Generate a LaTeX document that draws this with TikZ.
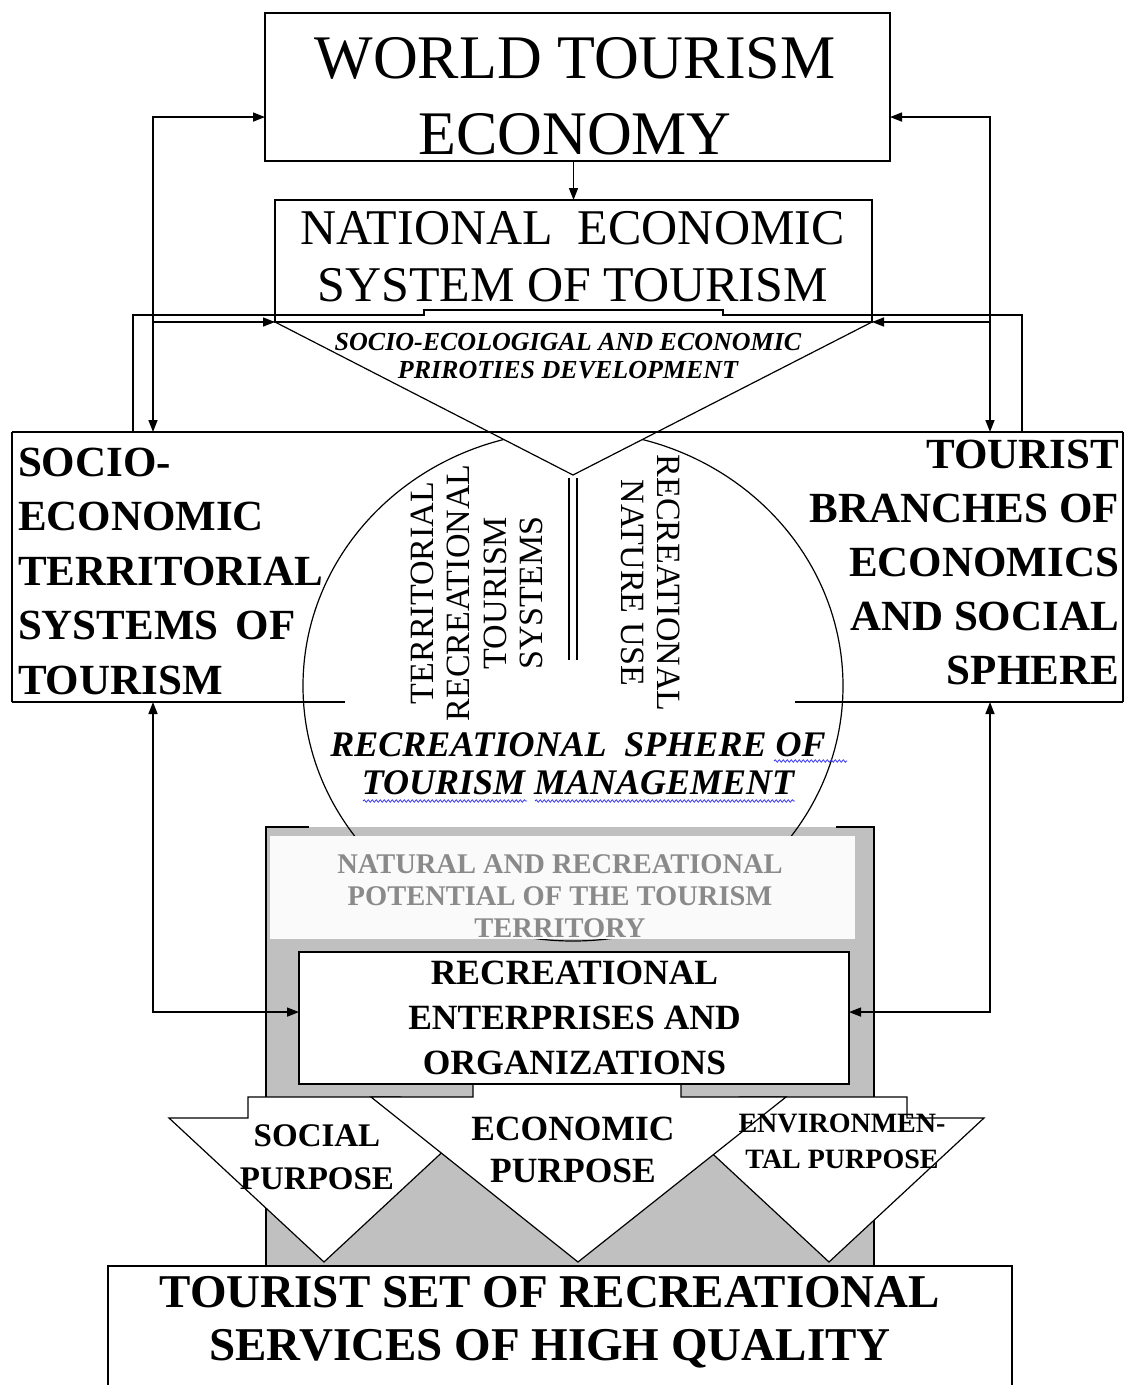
\documentclass[tikz,border=0pt]{standalone}
\usepackage{fontspec}
\setmainfont{Liberation Serif}
\usetikzlibrary{arrows.meta,decorations.pathmorphing,calc}
\newcommand\myfs[2]{\fontsize{#1}{#2}\selectfont}
\definecolor{greyfill}{HTML}{C0C0C0}
\definecolor{greytext}{HTML}{8A8A8A}
\definecolor{panelfill}{HTML}{FAFAFA}
\definecolor{spellblue}{HTML}{3A3AF0}
\begin{document}
\begin{tikzpicture}[x=1pt,y=-1pt,
  box/.style={draw, line width=1.8pt, inner sep=0pt, outer sep=0pt, rectangle},
  frame/.style={inner sep=0pt, outer sep=0pt, rectangle},
  txt/.style={inner sep=0pt, outer sep=0pt, align=center},
  conn/.style={line width=1.5pt},
  arr/.style={conn, -{Triangle[length=12pt,width=9pt]}},
  biarr/.style={conn, {Triangle[length=12pt,width=9pt]}-{Triangle[length=12pt,width=9pt]}},
  thinline/.style={line width=1.2pt},
  edge/.style={line width=1.6pt},
  squiggle/.style={spellblue, line width=0.8pt, decorate, decoration={snake, amplitude=1.2pt, segment length=4pt}}
]
\useasboundingbox (0,0) rectangle (1124,1385);

% side boxes (frames only, outlines drawn piecewise)
\node[frame, minimum width=408pt, minimum height=270pt] (sets) at (216,567) {};
\node[frame, minimum width=398pt, minimum height=270pt] (tbe) at (924,567) {};
\draw[edge] (sets.south west) -- (sets.north west);
\draw[edge] (tbe.north east) -- (tbe.south east);

% sphere (white fill first)
\fill[white] (573,686) ellipse [x radius=270pt, y radius=255pt];

% grey frame
\fill[greyfill] (266,827) rectangle (874,1265);
\draw[thinline] (573,686) ellipse [x radius=270pt, y radius=255pt];
\node[frame, fill=panelfill, minimum width=585pt, minimum height=103pt] (nat) at (562.5,887.5) {};
\draw[edge] (309,827) -- (266,827) -- (266,1265);
\draw[edge] (836,827) -- (874,827) -- (874,1265);

% recreational enterprises box
\node[box, fill=white, minimum width=550pt, minimum height=132pt] (rec) at (574,1018) {};

% priorities triangle
\draw[thinline, fill=white] (275,322) -- (872,322) -- (573,475) -- cycle;

% top line of side boxes and bottom stubs
\draw[edge] (sets.north west) -- (tbe.north east);
\draw[edge] (sets.south west) -- (345,702);
\draw[edge] (795,702) -- (tbe.south east);

% outer loop line
\coordinate (ll) at (133,315);
\coordinate (lr) at (1022,315);
\draw[conn] (sets.north -| ll) -- (ll) -- (424,315) -- (424,310) -- (723,310) -- (723,315) -- (lr) -- (tbe.north -| lr);

% main boxes
\node[box, minimum width=625pt, minimum height=148pt] (wte) at (577.5,87) {};
\node[box, line width=2pt, minimum width=597pt, minimum height=122pt] (nest) at (573.5,261) {};

% connectors
\coordinate (lx) at (153,0);
\coordinate (rx) at (990,0);
\coordinate (wl) at ($(wte.north west)!0.703!(wte.south west)$);
\coordinate (wr) at ($(wte.north east)!0.703!(wte.south east)$);
\coordinate (recl) at ($(rec.north west)!0.455!(rec.south west)$);
\coordinate (recr) at ($(rec.north east)!0.455!(rec.south east)$);
\draw[arr] (wte.south -| nest.north) -- (nest.north);
\draw[biarr] (wl) -| (lx |- sets.north);
\draw[biarr] (wr) -| (rx |- tbe.north);
\draw[arr] (lx |- nest.south) -- (nest.south west);
\draw[arr] (rx |- nest.south) -- (nest.south east);
\draw[biarr] (lx |- sets.south) |- (recl);
\draw[biarr] (rx |- tbe.south) |- (recr);

% double vertical divider
\draw[thinline] (569,478) -- (569,660);
\draw[thinline] (577,478) -- (577,660);

% purpose shapes
\draw[thinline, fill=white] (169,1118) -- (248,1118) -- (248,1097) -- (400,1097) -- (479,1118) -- (324,1262) -- cycle;
\draw[thinline, fill=white] (740,1097) -- (907,1097) -- (907,1118) -- (984,1118) -- (829,1262) -- (674,1118) -- cycle;
\draw[thinline, fill=white] (371,1097) -- (473,1097) -- (473,1084) -- (681,1084) -- (681,1097) -- (786,1097) -- (578,1262) -- cycle;
\draw[edge] (rec.south west) -- (rec.south east);

% bottom box
\node[box, fill=white, minimum width=904pt, minimum height=150pt, anchor=north west] (tset) at (108,1266) {};

% texts
\node[txt, font=\myfs{62}{76}] (wtetxt) at (575,96) {WORLD TOURISM\\ECONOMY};
\node[txt, font=\myfs{50}{57}] (nesttxt) at (572.5,257) {NATIONAL\hspace{0.5em}ECONOMIC\\SYSTEM OF TOURISM};
\node[txt, font=\myfs{26}{28}\bfseries\itshape] (pritxt) at (568,356) {SOCIO-ECOLOGIGAL AND ECONOMIC\\PRIROTIES DEVELOPMENT};
\node[txt, align=left, anchor=west, font=\myfs{43}{54.5}\bfseries] (setstxt) at (18,571) {SOCIO-\\ECONOMIC\\TERRITORIAL\\SYSTEMS\hspace{0.4em}OF\\TOURISM};
\node[txt, align=right, anchor=east, font=\myfs{43}{54}\bfseries] (tbetxt) at (1119,562) {TOURIST\\BRANCHES OF\\ECONOMICS\\AND SOCIAL\\SPHERE};
\node[txt, rotate=90, font=\myfs{34}{36.5}] (trts) at (477,593) {TERRITORIAL\\RECREATIONAL\\TOURISM\\SYSTEMS};
\node[txt, rotate=-90, font=\myfs{34}{36.5}] (rnu) at (650.5,583) {RECREATIONAL\\NATURE USE};
\node[txt, font=\myfs{36}{38}\bfseries\itshape] (spheretxt) at (578,764) {RECREATIONAL\hspace{0.5em}SPHERE OF\\TOURISM MANAGEMENT};
\node[txt, text=greytext, font=\myfs{28.5}{32}\bfseries] (nattxt) at (560,896) {NATURAL AND RECREATIONAL\\POTENTIAL OF THE TOURISM\\TERRITORY};
\node[txt, font=\myfs{35.5}{45}\bfseries] (rectxt) at (574.5,1018) {RECREATIONAL\\ENTERPRISES AND\\ORGANIZATIONS};
\node[txt, font=\myfs{33}{43}\bfseries] (soctxt) at (317,1157) {SOCIAL\\PURPOSE};
\node[txt, font=\myfs{35.5}{42}\bfseries] (ecotxt) at (573,1149.5) {ECONOMIC\\PURPOSE};
\node[txt, font=\myfs{28}{36}\bfseries] (envtxt) at (842,1141.5) {ENVIRONMEN-\\TAL PURPOSE};
\node[txt, font=\myfs{47}{53}\bfseries] (tsettxt) at (550,1322) {TOURIST SET OF RECREATIONAL\\SERVICES OF HIGH QUALITY};

% spell-check squiggles
\draw[squiggle] (774,761) -- (847,761);
\draw[squiggle] (363,801) -- (527,801);
\draw[squiggle] (535,801) -- (795,801);
\end{tikzpicture}
\end{document}
